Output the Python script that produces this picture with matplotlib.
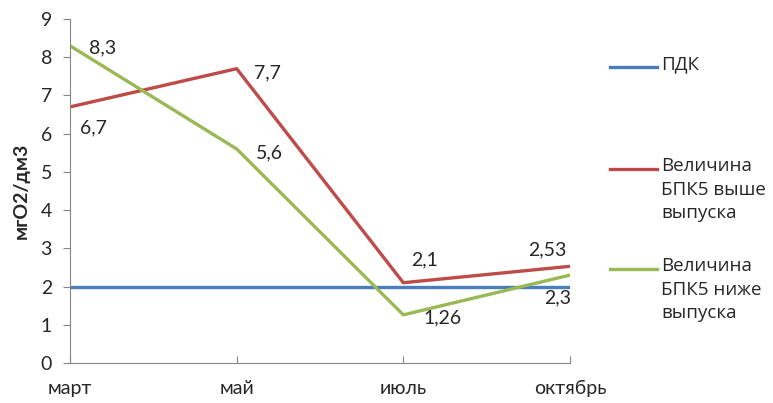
import matplotlib
matplotlib.use('Agg')
import matplotlib.pyplot as plt
from matplotlib.lines import Line2D

plt.rcParams['font.family'] = ['Lato', 'DejaVu Sans']

months = ['март', 'май', 'июль', 'октябрь']
pdk = [2, 2, 2, 2]
above = [6.7, 7.7, 2.1, 2.53]
below = [8.3, 5.6, 1.26, 2.3]
above_lbl = ['6,7', '7,7', '2,1', '2,53']
below_lbl = ['8,3', '5,6', '1,26', '2,3']
names = ['ПДК', 'Величина\nБПК5 выше\nвыпуска', 'Величина\nБПК5 ниже\nвыпуска']

c_blue = '#4A7EBB'
c_red = '#BE4B48'
c_green = '#98B954'
c_axis = '#868686'
c_text = '#262626'
fs = 14

fig = plt.figure(figsize=(7.73, 4.03), dpi=100)
ax = fig.add_axes([70/773, 1-363/403, 500/773, 344/403])

x = range(len(months))
ax.plot(x, pdk, color=c_blue, lw=2.4, solid_capstyle='butt')
ax.plot(x, above, color=c_red, lw=2.4, solid_capstyle='butt')
ax.plot(x, below, color=c_green, lw=2.4, solid_capstyle='butt')

# offsets in pixels for data labels
off_above = [(23, -21), (31, -4), (21, 23), (-23, 16)]
off_below = [(33, -2), (33, -4), (39, -3), (-12, -23)]
for i in x:
    ax.annotate(above_lbl[i], (i, above[i]), xytext=off_above[i], textcoords='offset pixels',
                ha='center', va='center', fontsize=fs, color=c_text)
    ax.annotate(below_lbl[i], (i, below[i]), xytext=off_below[i], textcoords='offset pixels',
                ha='center', va='center', fontsize=fs, color=c_text)

ax.set_xlim(0, 3)
ax.set_ylim(0, 9)
ax.set_yticks(range(10))
ax.set_xticks(list(x))
ax.set_xticklabels(months)
for s in ['top', 'right']:
    ax.spines[s].set_visible(False)
for s in ['left', 'bottom']:
    ax.spines[s].set_color(c_axis)
ax.tick_params(axis='y', direction='out', length=5, color=c_axis, labelsize=fs, labelcolor=c_text, pad=8)
ax.tick_params(axis='x', direction='in', length=5, color=c_axis, labelsize=fs, labelcolor=c_text, pad=12)
ax.set_ylabel('мгО2/дм3', fontsize=fs, fontweight='bold', color=c_text, labelpad=8)
for lbl in ax.get_xticklabels():
    lbl.set_clip_on(False)

# legend drawn by hand
leg_y = [67, 169, 269]
for col, name, yy in zip([c_blue, c_red, c_green], names, leg_y):
    fy = 1 - yy/403
    fig.add_artist(Line2D([610/773, 657/773], [fy, fy], color=col, lw=2.4,
                          transform=fig.transFigure))
    fig.text(661/773, fy + 12/403, name, ha='left', va='top', fontsize=13.5,
             family=['Open Sans', 'DejaVu Sans'], color=c_text, linespacing=1.4)

fig.savefig('out.png', dpi=100)
